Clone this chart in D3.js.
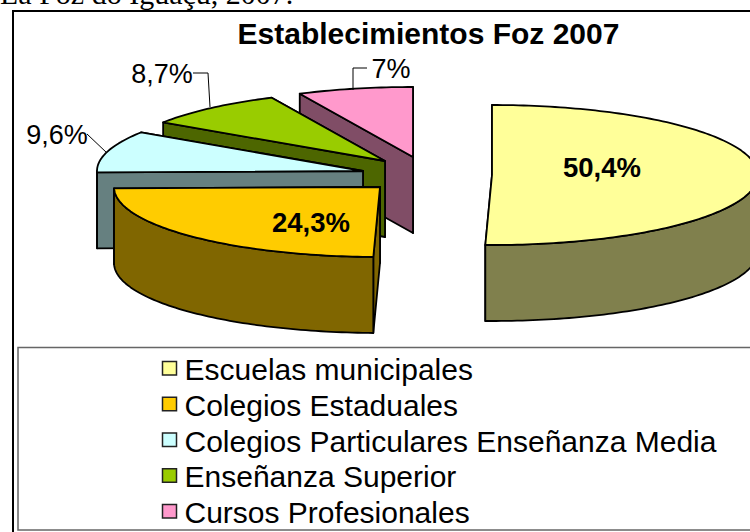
<!DOCTYPE html>
<html><head><meta charset="utf-8">
<script src="https://cdn.jsdelivr.net/npm/d3@7/dist/d3.min.js"></script>
<style>html,body{margin:0;padding:0;background:#fff}svg{display:block}</style>
</head><body><svg id="c" width="750" height="532"></svg>
<script>
const categories = ["Escuelas municipales","Colegios Estaduales","Colegios Particulares Enseñanza Media","Enseñanza Superior","Cursos Profesionales"];
const values = [50.4,24.3,9.6,8.7,7];
const valueLabels = ["50,4%","24,3%","9,6%","8,7%","7%"];
const topColors = ["#FFFF99","#FFCC00","#CCFFFF","#99CC00","#FF99CC"];
const wallColors = ["#80804D","#806600","#668080","#4D6600","#804D66"];
const apexX = [492,380,363,385,413];
const apexY = [175,187,171,161,157];

const svg = d3.select("#c");
const rx = 266, ry = 70, depth = 76;
const FONT = "'Liberation Sans',Arial,sans-serif";
const pie = d3.pie().sort(null)(values);
const line = d3.line();
const pt = (i,a,dy=0)=>[apexX[i]+rx*Math.sin(a), apexY[i]-ry*Math.cos(a)+dy];
const arcPts = (i,a0,a1,dy=0)=>{const n=Math.max(2,Math.ceil((a1-a0)/0.02));return d3.range(n+1).map(k=>pt(i,a0+(a1-a0)*k/n,dy));};

svg.append("text").attr("x",0).attr("y",4).attr("font-family","'Liberation Serif',serif").attr("font-size",30).text("La Foz do Iguaçu, 2007.");
svg.append("rect").attr("x",13).attr("y",11).attr("width",760).attr("height",530).attr("fill","#fff").attr("stroke","#000").attr("stroke-width",2);
svg.append("text").attr("x",428.5).attr("y",44).attr("text-anchor","middle").attr("font-family",FONT).attr("font-weight","bold").attr("font-size",30).text("Establecimientos Foz 2007");

const order = [4,3,2,1,0];
order.forEach(i=>{
  const s = pie[i], g = svg.append("g").attr("stroke","#000").attr("stroke-width",1.8).attr("stroke-linejoin","round");
  const A=[apexX[i],apexY[i]], low=[apexX[i],apexY[i]+depth];
  [s.endAngle,s.startAngle].forEach(a=>{
    g.append("path").attr("fill",wallColors[i]).attr("d",line([A,pt(i,a),pt(i,a,depth),low])+"Z");
  });
  const a0=Math.max(s.startAngle,Math.PI/2), a1=Math.min(s.endAngle,3*Math.PI/2);
  if(a1>a0){
    g.append("path").attr("fill",wallColors[i]).attr("d",line(arcPts(i,a0,a1).concat(arcPts(i,a0,a1,depth).reverse()))+"Z");
  }
  g.append("path").attr("fill",topColors[i]).attr("d",line([A].concat(arcPts(i,s.startAngle,s.endAngle)))+"Z");
});

const leaders=[[2,[[87,134],[107,153]]],[3,[[193,73],[208,73],[210,107]]],[4,[[367,68],[353,68],[353,90]]]];
leaders.forEach(([i,p])=>svg.append("path").attr("d",line(p)).attr("fill","none").attr("stroke","#000").attr("stroke-width",1));

const labelPos=[[602,177,"bold"],[311,232,"bold"],[57,144,"normal"],[162,83,"normal"],[391,78,"normal"]];
valueLabels.forEach((t,i)=>svg.append("text").attr("x",labelPos[i][0]).attr("y",labelPos[i][1]).attr("text-anchor","middle").attr("font-family",FONT).attr("font-weight",labelPos[i][2]).attr("font-size",i<2?27.5:27).text(t));

svg.append("rect").attr("x",18).attr("y",347.5).attr("width",760).attr("height",182.5).attr("fill","#fff").attr("stroke","#666").attr("stroke-width",1.5);
const rowY = d3.scalePoint().domain(categories).range([368,511]);
categories.forEach((c,i)=>{
  svg.append("rect").attr("x",162.5).attr("y",rowY(c)-6.5).attr("width",14).attr("height",13.5).attr("fill",topColors[i]).attr("stroke","#222").attr("stroke-width",1.5);
  svg.append("text").attr("x",184.5).attr("y",rowY(c)+12).attr("font-family",FONT).attr("font-size",30).text(c);
});
</script></body></html>
